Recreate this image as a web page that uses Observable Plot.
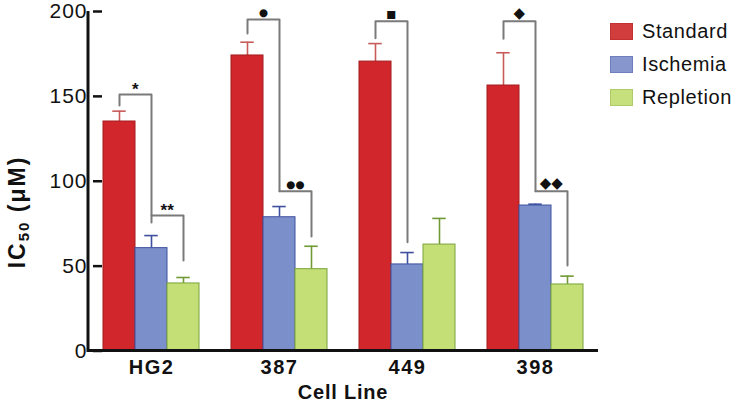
<!DOCTYPE html>
<html><head><meta charset="utf-8">
<script src="https://cdn.jsdelivr.net/npm/d3@7"></script>
<script src="https://cdn.jsdelivr.net/npm/@observablehq/plot@0.6"></script>
<style>
body{margin:0;background:#fff;font-family:"Liberation Sans",Arial,sans-serif;}
#wrap{position:relative;width:734px;height:402px;}
#legend{position:absolute;left:610px;top:15px;}
.item{display:flex;align-items:center;height:33px;}
.sw{width:23px;height:17px;box-sizing:border-box;margin-right:9px;}
.lab{font-size:20px;color:#111;letter-spacing:0.6px;}
</style></head><body><div id="wrap"></div>
<script>
const cellLines = ["HG2", "387", "449", "398"];
const conditions = ["Standard", "Ischemia", "Repletion"];
const standard = [135.2, 174.1, 170.5, 156.4];
const standardErr = [6.1, 7.8, 10.6, 19.3];
const ischemia = [60.6, 78.8, 51.0, 85.7];
const ischemiaErr = [7.4, 6.3, 7.0, 0.8];
const repletion = [39.8, 48.2, 62.7, 39.2];
const repletionErr = [3.5, 13.5, 15.4, 4.9];
const yTicks = [0, 50, 100, 150, 200];

const bracketCell = ["HG2", "HG2", "387", "387", "449", "398", "398"];
const bracketFrom = ["Standard", "Ischemia", "Standard", "Ischemia", "Standard", "Standard", "Ischemia"];
const bracketTo = ["Ischemia", "Repletion", "Ischemia", "Repletion", "Ischemia", "Ischemia", "Repletion"];
const bracketTop = [151.1, 79.8, 195.3, 94.1, 194.3, 194.3, 94.1];
const bracketLeftEnd = [144.6, 79.8, 187.0, 94.1, 184.3, 184.0, 94.1];
const bracketRightEnd = [75.7, 53.3, 94.1, 67.5, 64.1, 94.1, 50.4];
const bracketMark = ["*", "**", "●", "●●", "■", "◆", "◆◆"];

const fills = ["#d1262b", "#7b8fcb", "#c3df75"];
const strokes = ["#a41c1f", "#3f50a0", "#7aa33c"];
const errColors = ["#c85a5a", "#3f50a0", "#6f9a34"];
const legendFills = ["#d13d3d", "#8797cd", "#c7e07e"];

const series = [standard, ischemia, repletion];
const errs = [standardErr, ischemiaErr, repletionErr];
const rows = cellLines.flatMap((c, i) => conditions.map((k, j) => ({
  cell: c, cond: k, j, value: series[j][i], top: series[j][i] + errs[j][i]
})));
const bracketPts = bracketCell.flatMap((c, i) => [
  {id: i, cell: c, cond: bracketFrom[i], y: bracketLeftEnd[i]},
  {id: i, cell: c, cond: bracketFrom[i], y: bracketTop[i]},
  {id: i, cell: c, cond: bracketTo[i], y: bracketTop[i]},
  {id: i, cell: c, cond: bracketTo[i], y: bracketRightEnd[i]}
]);
const bracketLabels = bracketCell.map((c, i) => ({cell: c, cond: bracketTo[i], y: bracketTop[i], t: bracketMark[i]}));

const W = 734, H = 402, mL = 88, mR = 136, mT = 11, mB = 51.5;
const fxPadIn = 0.238, fxPadOut = 0.11;
const step = (W - mL - mR) / (cellLines.length - fxPadIn + 2 * fxPadOut);
const barW = step * (1 - fxPadIn) / conditions.length;

const chart = Plot.plot({
  width: W, height: H,
  marginLeft: mL, marginRight: mR, marginTop: mT, marginBottom: mB,
  style: {fontFamily: "'Liberation Sans', Arial, sans-serif", background: "transparent"},
  fx: {domain: cellLines, paddingInner: fxPadIn, paddingOuter: fxPadOut, label: null},
  x: {domain: conditions, padding: 0, axis: null},
  y: {domain: [0, 200]},
  color: {domain: conditions, range: fills},
  marks: [
    Plot.ruleX(rows, {fx: "cell", x: "cond", y1: "value", y2: "top", stroke: d => errColors[d.j], strokeWidth: 1.6}),
    Plot.tickY(rows, {fx: "cell", x: "cond", y: "top", stroke: d => errColors[d.j], strokeWidth: 1.6, insetLeft: barW / 2 - 7, insetRight: barW / 2 - 7}),
    Plot.barY(rows, {fx: "cell", x: "cond", y: "value", fill: "cond", stroke: d => strokes[d.j], strokeWidth: 1}),
    Plot.line(bracketPts, {fx: "cell", x: "cond", y: "y", z: "id", stroke: "#7a7a7a", strokeWidth: 2, curve: "linear"}),
    Plot.text(bracketLabels.filter(d => d.t.includes("*")), {fx: "cell", x: "cond", y: "y", text: "t", dx: -barW / 2, dy: -5, fontSize: 17, fontWeight: "bold", fill: "#111"}),
    Plot.text(bracketLabels.filter(d => d.t.includes("◆")), {fx: "cell", x: "cond", y: "y", text: "t", dx: -barW / 2, dy: -8, fontSize: 15, fill: "#111", fontFamily: "DejaVu Sans"}),
    Plot.text(bracketLabels.filter(d => !d.t.includes("*") && !d.t.includes("◆")), {fx: "cell", x: "cond", y: "y", text: "t", dx: -barW / 2, dy: -7, fontSize: 10.5, fill: "#111", fontFamily: "DejaVu Sans"}),
    Plot.axisY({ticks: yTicks, tickSize: 9, tickPadding: 6, fontSize: 21, strokeWidth: 2.5, label: null, color: "#111"}),
    Plot.axisFx({anchor: "bottom", tickSize: 0, tickPadding: 9, fontSize: 20, fontWeight: "bold", label: null, color: "#111"})
  ]
});
document.getElementById("wrap").appendChild(chart);

// axis lines, axis titles
const svg = d3.select(chart);
const ys = chart.scale("y");
const yl = d3.scaleLinear(ys.domain, ys.range);
svg.append("line").attr("x1", mL).attr("x2", W - mR).attr("y1", yl(0)).attr("y2", yl(0)).attr("stroke", "#111").attr("stroke-width", 3);
svg.append("line").attr("x1", mL).attr("x2", mL).attr("y1", yl(200)).attr("y2", yl(0) + 1.5).attr("stroke", "#111").attr("stroke-width", 3);
svg.selectAll('[aria-label="fx-axis tick label"] text').style("font-weight", "bold").style("letter-spacing", "1.5px");
svg.selectAll('[aria-label="y-axis tick label"] text').style("letter-spacing", "1px");
svg.append("text").attr("x", (mL + W - mR) / 2).attr("y", 399).attr("text-anchor", "middle")
  .attr("font-size", 20).attr("font-weight", "bold").attr("fill", "#111").style("letter-spacing", "0.8px").text("Cell Line");
const t = svg.append("text").attr("transform", `translate(25,212) rotate(-90)`)
  .attr("text-anchor", "middle").attr("font-size", 23).attr("font-weight", "bold").attr("fill", "#111")
  .style("letter-spacing", "2px");
t.append("tspan").text("IC");
t.append("tspan").attr("font-size", 15).attr("dy", 4).text("50");
t.append("tspan").attr("dy", -4).text(" (μM)");

// legend
const lg = d3.select("#wrap").append("div").attr("id", "legend");
conditions.forEach((c, j) => {
  const it = lg.append("div").attr("class", "item");
  it.append("div").attr("class", "sw").style("background", legendFills[j]).style("border", `1px solid ${strokes[j]}55`);
  it.append("span").attr("class", "lab").text(c);
});
</script></body></html>
